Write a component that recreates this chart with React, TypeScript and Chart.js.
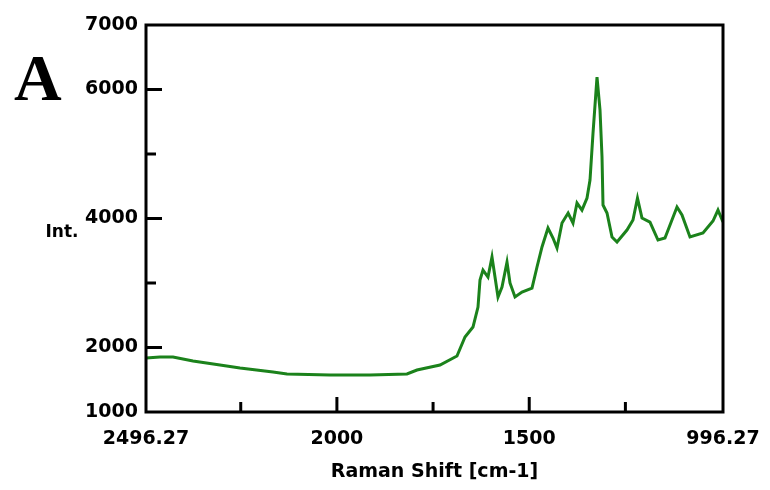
import React, { useEffect, useRef } from "react";
import { Chart, registerables } from "chart.js";

Chart.register(...registerables);

// Raman shift (cm-1) and intensity
const RAMAN_SHIFT = [
  2496.3, 2459.9, 2426.1, 2374.1, 2303.9, 2251.9, 2166.1, 2129.7, 2018.0, 1914.0,
  1817.8, 1791.8, 1732.0, 1687.8, 1667.0, 1646.2, 1633.2, 1628.0, 1620.2, 1607.2,
  1596.8, 1589.0, 1581.2, 1570.8, 1557.8, 1550.0, 1537.0, 1518.8, 1492.8, 1479.8,
  1466.8, 1451.2, 1438.2, 1427.8, 1414.8, 1398.9, 1386.2, 1375.8, 1362.9, 1349.8,
  1342.0, 1334.2, 1323.8, 1316.0, 1310.8, 1308.2, 1297.8, 1284.8, 1271.8, 1245.9,
  1230.3, 1218.6, 1206.9, 1186.1, 1165.3, 1147.1, 1115.9, 1102.9, 1082.1, 1048.3,
  1022.3, 1009.3, 996.3,
];
const INTENSITY = [
  1837, 1853, 1853, 1791, 1729, 1682, 1620, 1589, 1574, 1574,
  1589, 1651, 1729, 1868, 2163, 2318, 2628, 3046, 3201, 3093,
  3403, 3093, 2783, 2938, 3325, 3000, 2783, 2860, 2922, 3248,
  3558, 3852, 3697, 3542, 3930, 4085, 3930, 4240, 4131, 4317,
  4596, 5325, 6193, 5681, 4953, 4209, 4085, 3713, 3635, 3821,
  3976, 4317, 4007, 3945, 3666, 3697, 4178, 4054, 3713, 3775,
  3961, 4131, 3945,
];

const X_TICKS = [2496.27, 2250, 2000, 1750, 1500, 1250, 996.27];
const X_TICK_LABELS = ["2496.27", "", "2000", "", "1500", "", "996.27"];
const Y_TICKS = [1000, 2000, 3000, 4000, 5000, 6000, 7000];
const Y_TICK_LABELS = ["1000", "2000", "", "4000", "", "6000", "7000"];

const X_TITLE = "Raman Shift [cm-1]";
const Y_TITLE = "Int.";
const PANEL_LABEL = "A";

const boxPlugin = {
  id: "boxAndTicks",
  beforeDraw(chart: any) {
    const ctx = chart.ctx;
    ctx.save();
    ctx.fillStyle = "#ffffff";
    ctx.fillRect(0, 0, chart.width, chart.height);
    ctx.restore();
  },
  afterDraw(chart: any) {
    const ctx = chart.ctx;
    const { left, right, top, bottom } = chart.chartArea;
    const xs = chart.scales.x;
    const ys = chart.scales.y;
    ctx.save();
    ctx.strokeStyle = "#000";
    ctx.lineWidth = 3;
    ctx.strokeRect(left, top, right - left, bottom - top);
    X_TICKS.forEach((v, i) => {
      if (i === 0 || i === X_TICKS.length - 1) return;
      const px = xs.getPixelForValue(v);
      const len = X_TICK_LABELS[i] ? 15 : 10;
      ctx.beginPath();
      ctx.moveTo(px, bottom);
      ctx.lineTo(px, bottom - len);
      ctx.stroke();
    });
    Y_TICKS.forEach((v, i) => {
      if (i === 0 || i === Y_TICKS.length - 1) return;
      const py = ys.getPixelForValue(v);
      const len = Y_TICK_LABELS[i] ? 16 : 10;
      ctx.beginPath();
      ctx.moveTo(left, py);
      ctx.lineTo(left + len, py);
      ctx.stroke();
    });
    ctx.fillStyle = "#000";
    ctx.font = "bold 17px 'DejaVu Sans'";
    ctx.textAlign = "center";
    ctx.textBaseline = "middle";
    ctx.fillText(Y_TITLE, 62, 233);
    ctx.font = "bold 66px 'Liberation Serif'";
    ctx.textAlign = "left";
    ctx.textBaseline = "alphabetic";
    ctx.fillText(PANEL_LABEL, 14, 100);
    ctx.restore();
  },
};

export default function App() {
  const ref = useRef<HTMLCanvasElement | null>(null);
  useEffect(() => {
    if (!ref.current) return;
    const data = RAMAN_SHIFT.map((x, i) => ({ x, y: INTENSITY[i] }));
    const tickFont = { family: "'DejaVu Sans'", size: 19, weight: "bold" as const };
    const chart = new Chart(ref.current, {
      type: "line",
      data: {
        datasets: [
          {
            data,
            borderColor: "#1b821b",
            borderWidth: 3,
            pointRadius: 0,
            tension: 0,
            fill: false,
          },
        ],
      },
      options: {
        responsive: false,
        animation: false,
        layout: { padding: { left: 0, right: 47, top: 25, bottom: 0 } },
        plugins: { legend: { display: false }, tooltip: { enabled: false } },
        scales: {
          x: {
            type: "linear",
            reverse: true,
            min: 996.27,
            max: 2496.27,
            grid: { display: false, drawTicks: false },
            border: { display: false },
            afterBuildTicks: (s: any) => {
              s.ticks = X_TICKS.map((v) => ({ value: v }));
            },
            afterFit: (s: any) => {
              s.height = 78;
              s.paddingLeft = 0;
              s.paddingRight = 0;
            },
            ticks: {
              autoSkip: false,
              maxRotation: 0,
              padding: 16,
              color: "#000",
              font: tickFont,
              callback: (_v: any, i: number) => X_TICK_LABELS[i],
            },
            title: {
              display: true,
              text: X_TITLE,
              color: "#000",
              font: { family: "'DejaVu Sans'", size: 19, weight: "bold" },
              padding: { top: 0, bottom: 7 },
            },
          },
          y: {
            type: "linear",
            min: 1000,
            max: 7000,
            grid: { display: false, drawTicks: false },
            border: { display: false },
            afterBuildTicks: (s: any) => {
              s.ticks = Y_TICKS.map((v) => ({ value: v }));
            },
            afterFit: (s: any) => {
              s.width = 146;
              s.paddingTop = 0;
              s.paddingBottom = 0;
            },
            ticks: {
              autoSkip: false,
              padding: 8,
              color: "#000",
              font: tickFont,
              callback: (_v: any, i: number) => Y_TICK_LABELS[i],
            },
          },
        },
      },
      plugins: [boxPlugin],
    });
    return () => chart.destroy();
  }, []);
  return (
    <div style={{ position: "absolute", left: 0, top: 0, width: 770, height: 490, background: "#fff" }}>
      <canvas ref={ref} width={770} height={490} />
    </div>
  );
}
